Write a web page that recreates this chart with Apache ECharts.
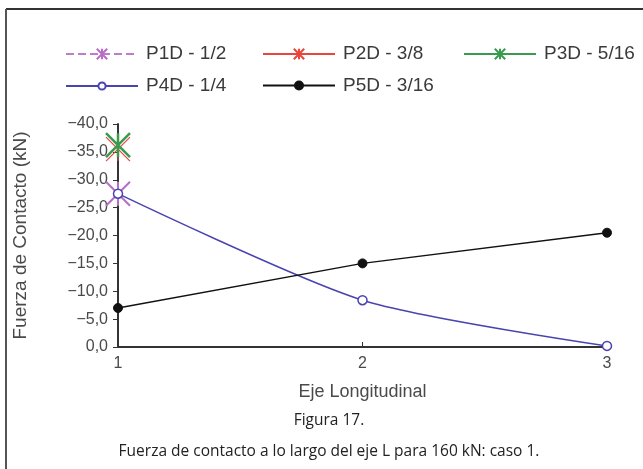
<!DOCTYPE html>
<html>
<head>
<meta charset="utf-8">
<script src="https://cdn.jsdelivr.net/npm/echarts@6/dist/echarts.min.js"></script>
<style>
  html, body { margin: 0; padding: 0; background: #fff; }
  #chart { width: 643px; height: 469px; }
</style>
</head>
<body>
<div id="chart"></div>
<script>
var seriesNames = ['P1D - 1/2', 'P2D - 3/8', 'P3D - 5/16', 'P4D - 1/4', 'P5D - 3/16'];
var xTicks = [1, 2, 3];
var p1d = [[1, -27.5]];
var p2d = [[1, -35.5]];
var p3d = [[1, -36.2]];
var p4d = [[1, -27.5], [2, -8.4], [3, -0.2]];
var p5d = [[1, -7.0], [2, -15.0], [3, -20.5]];

var asterisk = 'path://M0,0L20,20M20,0L0,20M10,0L10,20';
var txt = '#4a4a4a';
var font = 'Liberation Sans';

// one legend per item so each sits where it does in the figure
function legendAt(name, left, rowY, h) {
  return {
    data: [name],
    left: left,
    top: rowY - h / 2,
    padding: 0,
    itemWidth: 72,
    itemHeight: h,
    textStyle: { fontFamily: font, fontSize: 19, color: '#3a3a3a', padding: [0, 0, 0, 3] }
  };
}

var myChart = echarts.init(document.getElementById('chart'));
var option = {
  animation: false,
  legend: [
    legendAt(seriesNames[0], 65, 51, 13),
    legendAt(seriesNames[1], 262, 51, 13),
    legendAt(seriesNames[2], 463, 51, 13),
    legendAt(seriesNames[3], 65, 81, 9),
    legendAt(seriesNames[4], 262, 81, 10)
  ],
  grid: { left: 118, right: 36, top: 124, bottom: 122 },
  xAxis: {
    type: 'value',
    min: 1,
    max: 3,
    interval: 1,
    name: 'Eje Longitudinal',
    nameLocation: 'middle',
    nameGap: 36,
    nameTextStyle: { fontFamily: font, fontSize: 18, color: txt },
    axisLine: { lineStyle: { color: '#333', width: 2 } },
    axisTick: { inside: true, length: 5, lineStyle: { color: '#333' } },
    axisLabel: { fontFamily: font, fontSize: 16, color: txt, margin: 9 },
    splitLine: { show: false }
  },
  yAxis: {
    type: 'value',
    inverse: true,
    min: -40,
    max: 0,
    interval: 5,
    name: 'Fuerza de Contacto (kN)',
    nameLocation: 'middle',
    nameGap: 88,
    nameTextStyle: { fontFamily: font, fontSize: 19, color: txt },
    axisLine: { show: true, lineStyle: { color: '#333', width: 2 } },
    axisTick: { show: true, length: 5, lineStyle: { color: '#333' } },
    axisLabel: {
      fontFamily: font, fontSize: 16, color: txt, margin: 10,
      formatter: function (v) {
        return v.toFixed(1).replace('.', ',').replace('-', '\u2212');
      }
    },
    splitLine: { show: false }
  },
  graphic: [
    { type: 'line', shape: { x1: 6, y1: 9, x2: 643, y2: 9 }, style: { stroke: '#333', lineWidth: 2 } },
    { type: 'line', shape: { x1: 6, y1: 9, x2: 6, y2: 469 }, style: { stroke: '#555', lineWidth: 2 } },
    { type: 'text', x: 329, y: 413, style: { text: 'Figura 17.', font: '15.5px "Open Sans"', fill: '#222', textAlign: 'center' } },
    { type: 'text', x: 329, y: 444, style: { text: 'Fuerza de contacto a lo largo del eje L para 160 kN: caso 1.', font: '15.5px "Open Sans"', fill: '#222', textAlign: 'center' } }
  ],
  series: [
    {
      name: seriesNames[1], type: 'line', data: p2d,
      symbol: asterisk, symbolSize: 24,
      lineStyle: { color: '#e8453c', width: 1.5 },
      itemStyle: { color: '#e8453c', borderColor: '#e8453c', borderWidth: 1.2 }
    },
    {
      name: seriesNames[2], type: 'line', data: p3d,
      symbol: asterisk, symbolSize: 24,
      lineStyle: { color: '#3a9a4e', width: 1.5 },
      itemStyle: { color: '#3a9a4e', borderColor: '#3a9a4e', borderWidth: 2.5 }
    },
    {
      name: seriesNames[0], type: 'line', data: p1d,
      symbol: asterisk, symbolSize: 24,
      lineStyle: { color: '#c07ccc', width: 2, type: 'dashed' },
      itemStyle: { color: '#b86cc8', borderColor: '#b86cc8', borderWidth: 2 }
    },
    {
      name: seriesNames[3], type: 'line', data: p4d, smooth: 0.25,
      symbol: 'circle', symbolSize: 9,
      lineStyle: { color: '#4a44b0', width: 1.5 },
      itemStyle: { color: '#fff', borderColor: '#4a44b0', borderWidth: 1.5 }
    },
    {
      name: seriesNames[4], type: 'line', data: p5d,
      symbol: 'circle', symbolSize: 9,
      lineStyle: { color: '#111', width: 1.5 },
      itemStyle: { color: '#111', borderColor: '#111', borderWidth: 1 }
    }
  ]
};
myChart.setOption(option);
</script>
</body>
</html>
